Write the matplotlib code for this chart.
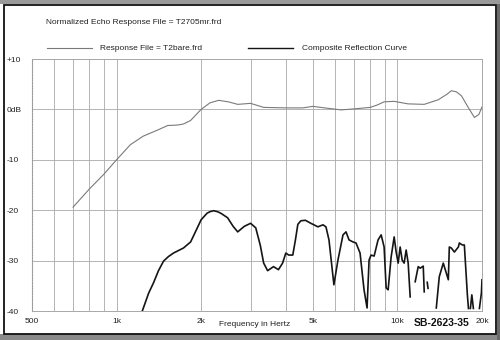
import numpy as np
import matplotlib.pyplot as plt
from matplotlib.lines import Line2D
from matplotlib.patches import Rectangle
from matplotlib.ticker import LogLocator, NullFormatter, FixedLocator

plt.rcParams['font.family'] = ['Liberation Sans', 'DejaVu Sans']

# Response file T2bare.frd (dB vs Hz)
resp_freq = [700, 800, 900, 1000, 1120, 1245, 1400, 1520, 1650, 1730, 1835,
             2000, 2150, 2310, 2500, 2700, 3000, 3340, 4000, 4600, 5000, 5500,
             6300, 7000, 8000, 8500, 8960, 9730, 10900, 12450, 13960, 15000,
             15550, 16200, 16900, 17900, 18800, 19500, 20000]
resp_db = [-19.4, -15.8, -12.9, -10.0, -7.0, -5.3, -4.1, -3.2, -3.1, -2.9, -2.2,
           0.0, 1.3, 1.8, 1.5, 1.0, 1.2, 0.4, 0.3, 0.3, 0.6, 0.3,
           -0.1, 0.1, 0.4, 0.9, 1.5, 1.6, 1.1, 1.0, 1.9, 3.0,
           3.7, 3.5, 2.7, 0.3, -1.6, -1.0, 0.5]

# Composite reflection curve (nan = below -40 dB, not drawn)
refl_freq = [1235, 1300, 1354, 1410, 1470, 1530, 1595, 1731, 1835, 1920, 2000,
             2100, 2150, 2215, 2290, 2350, 2485, 2600, 2700, 2850, 3000, 3130,
             3250, 3340, 3450, 3620, 3770, 3900, 4005, 4100, 4240, 4330, 4420,
             4530, 4700, 4918, 5210, 5430, 5565, 5705, 5940, 6140, 6400, 6560,
             6725, 6950, 7120, 7360, 7605, 7795, 7925, 8055, 8260, 8530, 8750,
             8965, 9115, 9265, 9495, 9735, 9895, 10060, 10225, 10395, 10565,
             10740, 10920, 11100, 11285, 11565, 11855, 12050, 12355, 12455,
             12600, 12765, 12850, 13000, 13750, 14090, 14560, 14800, 15175,
             15300, 15555, 15945, 16480, 16610, 17025, 17305, 17740, 17900,
             18000, 18185, 18400, 18635, 18900, 19580, 19905, 20000]
refl_db = [-40.0, -36.5, -34.4, -32.0, -30.1, -29.2, -28.5, -27.5, -26.3, -24.0, -21.9,
           -20.6, -20.3, -20.1, -20.3, -20.6, -21.5, -23.2, -24.3, -23.2, -22.6, -23.5,
           -27.0, -30.5, -32.0, -31.2, -31.8, -30.5, -28.5, -28.9, -28.9, -26.0, -22.8,
           -22.1, -22.0, -22.6, -23.3, -22.9, -23.3, -25.9, -34.8, -29.9, -24.9, -24.3,
           -25.9, -26.3, -26.5, -28.5, -35.8, -39.4, -29.9, -28.9, -29.1, -25.9, -24.9,
           -27.3, -35.4, -35.8, -29.3, -25.3, -28.3, -30.5, -27.3, -29.9, -30.5,
           -27.9, -30.5, -37.2, np.nan, -34.2, -31.2, -31.5, -31.1, -36.2,
           np.nan, -34.3, -35.5, np.nan, -39.4, -33.2, -30.5, -31.8, -33.8,
           -27.3, -27.5, -28.3, -27.3, -26.5, -26.9, -26.9, -36.8, -39.5,
           np.nan, -39.5, -36.8, -39.5, np.nan, -39.5, -36.4, -33.8]

xtick_vals = [500, 1000, 2000, 5000, 10000, 20000]
xtick_text = ['500', '1k', '2k', '5k', '10k', '20k']
ytick_vals = [-40, -30, -20, -10, 0, 10]
ytick_text = ['-40', '-30', '-20', '-10', '0dB', '+10']

W, H = 500, 340
fig = plt.figure(figsize=(W / 100, H / 100), dpi=100)

# scanned page frame and shadow, kept behind the axes
frame = [
    Rectangle((0, 0), 1, 6 / H, facecolor='#8a8a8a', edgecolor='none'),
    Rectangle((497 / W, 0), 3 / W, 1, facecolor='#6a6a6a', edgecolor='none'),
    Rectangle((0, 336 / H), 1, 4 / H, facecolor='#9a9a9a', edgecolor='none'),
    Rectangle((4 / W, 6 / H), 492 / W, 329 / H, facecolor='white',
              edgecolor='#111111', linewidth=1.3),
]
for p in frame:
    p.set_transform(fig.transFigure)
    p.set_zorder(-10)
    fig.patches.append(p)

ax = fig.add_axes([32 / W, 1 - 311 / H, 450 / W, 252 / H])
ax.set_facecolor('none')
ax.set_xscale('log')
ax.set_xlim(500, 20000)
ax.set_ylim(-40, 10)

ax.plot(resp_freq, resp_db, color='#7a7a7a', linewidth=0.8)
ax.plot(refl_freq, refl_db, color='#151515', linewidth=1.2)

ax.xaxis.set_major_locator(FixedLocator(xtick_vals))
ax.set_xticklabels(xtick_text)
ax.xaxis.set_minor_locator(LogLocator(base=10, subs=np.arange(2, 10)))
ax.xaxis.set_minor_formatter(NullFormatter())
ax.set_yticks(ytick_vals)
ax.set_yticklabels(ytick_text)
for lab in ax.get_yticklabels():
    lab.set_ha('left')

ax.tick_params(axis='both', which='both', length=0, labelsize=6, colors='#222222')
ax.tick_params(axis='y', pad=18)
ax.tick_params(axis='x', pad=5)

ax.grid(True, which='both', axis='x', color='#a8a8a8', linewidth=0.6)
ax.grid(True, which='major', axis='y', color='#a8a8a8', linewidth=0.6)
ax.set_axisbelow(True)
for side in ['top', 'right', 'bottom']:
    ax.spines[side].set_color('#a8a8a8')
    ax.spines[side].set_linewidth(0.7)
ax.spines['left'].set_color('#999999')
ax.spines['left'].set_linestyle((0, (1, 1.5)))
ax.spines['left'].set_linewidth(0.8)

fig.text(134 / W, 1 - 23 / H, 'Normalized Echo Response File = T2705mr.frd',
         ha='center', va='center', fontsize=6, color='#222222')

# legend row
fig.lines.append(Line2D([47 / W, 92 / W], [1 - 48 / H, 1 - 48 / H],
                        transform=fig.transFigure, color='#7a7a7a', linewidth=0.8))
fig.text(100 / W, 1 - 48 / H, 'Response File = T2bare.frd',
         ha='left', va='center', fontsize=6, color='#222222')
fig.lines.append(Line2D([248 / W, 293 / W], [1 - 48 / H, 1 - 48 / H],
                        transform=fig.transFigure, color='#151515', linewidth=1.0))
fig.text(302 / W, 1 - 48 / H, 'Composite Reflection Curve',
         ha='left', va='center', fontsize=6, color='#222222')

fig.text(255 / W, 1 - 325 / H, 'Frequency in Hertz',
         ha='center', va='center', fontsize=6, color='#222222')
fig.text(442 / W, 1 - 323 / H, 'SB-2623-35',
         ha='center', va='center', fontsize=7.5, fontweight='bold', color='#111111')

fig.savefig('out.png', dpi=100)
